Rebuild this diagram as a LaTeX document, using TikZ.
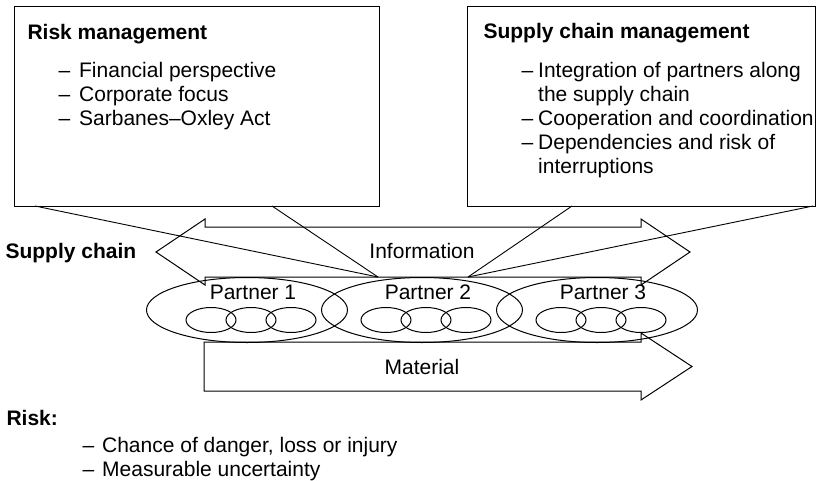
\documentclass[tikz,border=0pt]{standalone}
\usepackage{fontspec}
\setmainfont{Liberation Sans}
\usetikzlibrary{positioning, calc, shapes.geometric}

\begin{document}
\begin{tikzpicture}[
        x=1pt, y=-1pt,
        font=\fontsize{21}{24}\selectfont,
        line width=1pt,
        topicbox/.style={draw, minimum height=200pt, inner sep=0pt, outer sep=0pt},
        partnerring/.style={draw, ellipse, minimum width=201pt, minimum height=65pt, inner sep=0pt},
        linkring/.style={draw, ellipse, minimum width=50pt, minimum height=25pt, inner sep=0pt},
        flowarrow/.style={draw, line join=miter},
        txt/.style={anchor=base west, inner sep=0pt},
        lbl/.style={anchor=base, inner sep=0pt},
        link/.style={draw, line width=0.9pt}
      ]
        \useasboundingbox (0,0) rectangle (825,480);

        \node[topicbox, minimum width=365pt] (rm) at (196.5,106) {};
        \node[topicbox, minimum width=348pt] (scm) at (641,106) {};

        \node[txt] (rmtitle) at (27,39) {\textbf{Risk management}};
        \node[txt] (rmlist) at (58,77) {\begin{tabular}[t]{@{}l@{\hspace{9pt}}l@{}}
            – & Financial perspective\\
            – & Corporate focus\\
            – & Sarbanes–Oxley Act
          \end{tabular}};

        \node[txt] (scmtitle) at (483,38) {\textbf{Supply chain management}};
        \node[txt] (scmlist) at (521,77) {\begin{tabular}[t]{@{}l@{\hspace{5pt}}l@{}}
            – & Integration of partners along\\
              & the supply chain\\
            – & Cooperation and coordination\\
            – & Dependencies and risk of\\
              & interruptions
          \end{tabular}};

        \draw[flowarrow] (156,252) -- (205,219) -- (205,227) -- (641,227) -- (641,219) -- (690,252)
          -- (641,285) -- (641,277) -- (205,277) -- (205,285) -- cycle;
        \node[lbl] (info) at (422,258) {Information};

        \draw[flowarrow] (204,342) -- (641,342) -- (641,333) -- (692,366.5) -- (641,400)
          -- (641,391) -- (204,391) -- cycle;
        \node[lbl] (mat) at (422,374) {Material};

        \foreach \i/\x in {1/247, 2/422, 3/597} {
          \node[partnerring] (p\i) at (\x,310) {};
          \node[lbl] (plbl\i) at (\x+6,299) {Partner \i};
          \foreach \d [count=\j] in {-36,4,44}
            \node[linkring] (ring\i\j) at (\x+\d,320) {};
        }

        \node[txt] (sc) at (5,258) {\textbf{Supply chain}};

        \coordinate (lfoc) at (378,277);
        \coordinate (rfoc) at (468,277);
        \draw[link] ([xshift=21pt]rm.south west) -- (lfoc);
        \draw[link] ([xshift=258pt]rm.south west) -- (lfoc);
        \draw[link] ([xshift=105pt]scm.south west) -- (rfoc);
        \draw[link] ([xshift=-2pt]scm.south east) -- (rfoc);

        \node[txt] (risk) at (6,425) {\textbf{Risk:}};
        \node[txt] (risklist) at (82,452) {\begin{tabular}[t]{@{}l@{\hspace{8pt}}l@{}}
            – & Chance of danger, loss or injury\\
            – & Measurable uncertainty
          \end{tabular}};
      \end{tikzpicture}
\end{document}
